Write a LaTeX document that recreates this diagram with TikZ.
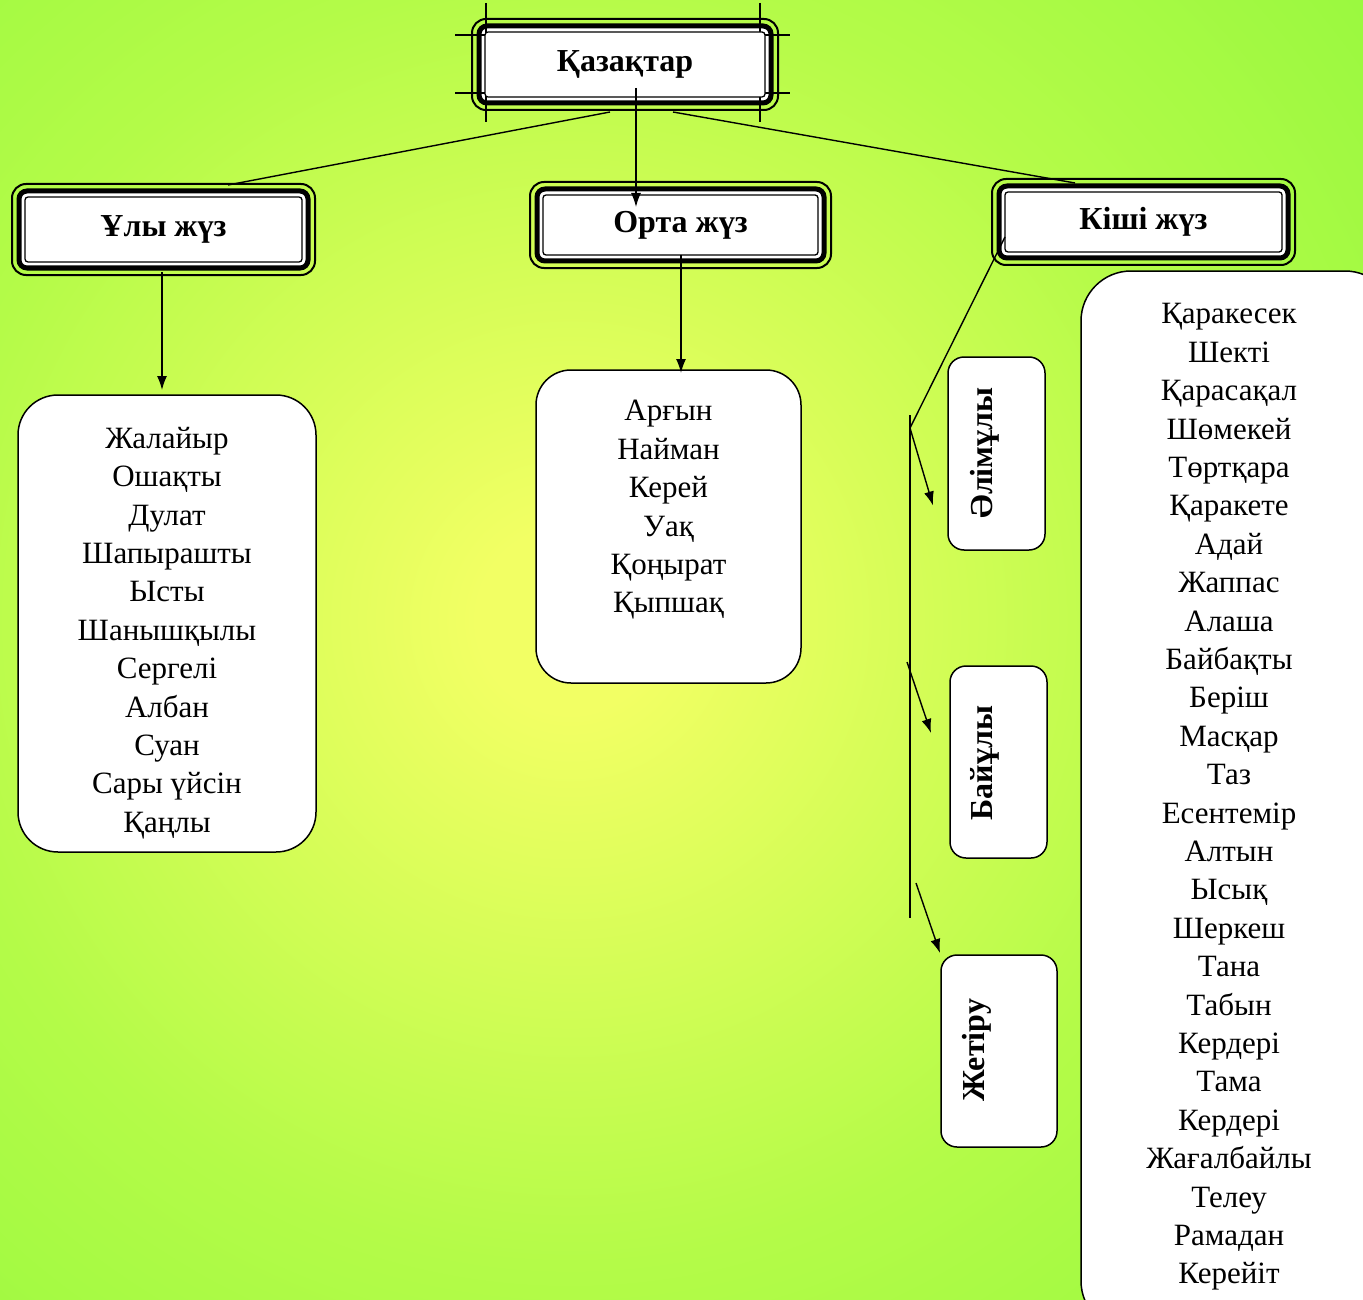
\documentclass[tikz,border=0pt]{standalone}
\usepackage{fontspec}
\setmainfont{Liberation Serif}
\usetikzlibrary{arrows.meta}
\definecolor{ylw}{RGB}{242,255,100}
\definecolor{midg}{RGB}{180,251,72}
\definecolor{grn}{RGB}{138,247,58}
\pgfdeclarelayer{bg}
\pgfdeclarelayer{mid}
\pgfsetlayers{bg,mid,main}
\pgfdeclareradialshading{bgshade}{\pgfpointorigin}{color(0bp)=(ylw);color(2bp)=(ylw);color(14bp)=(midg);color(27bp)=(grn);color(50bp)=(grn)}
\newcommand\hdrframe[1]{%
  \begin{pgfonlayer}{mid}
    \draw[line width=5pt, fill=white, rounded corners=8pt]
      ([xshift=-6pt,yshift=6pt]#1.north west) rectangle ([xshift=6pt,yshift=-6pt]#1.south east);
    \draw[line width=2pt, rounded corners=14pt]
      ([xshift=-13pt,yshift=13pt]#1.north west) rectangle ([xshift=13pt,yshift=-13pt]#1.south east);
  \end{pgfonlayer}}
\begin{document}
\begin{tikzpicture}[x=1pt,y=-1pt,
  hdr/.style={draw, line width=1.3pt, rounded corners=3pt, fill=white, inner sep=0pt, outer sep=0pt,
    font=\fontsize{32}{38}\selectfont\bfseries},
  lst/.style={draw, line width=1.5pt, fill=white, inner sep=0pt, outer sep=0pt},
  lbl/.style={draw, line width=1.5pt, rounded corners=16pt, fill=white, inner sep=0pt, outer sep=0pt},
  txt/.style={align=center, inner sep=0pt, font=\fontsize{31}{38.4}\selectfont},
  vtxt/.style={rotate=90, inner sep=0pt, font=\fontsize{32}{38}\selectfont\bfseries},
  ln/.style={line width=1.4pt},
  arr/.style={line width=1.4pt, -{Latex[length=14pt,width=10pt]}},
  crop/.style={line width=1.1pt}]
\useasboundingbox (0,0) rectangle (1363,1300);
\begin{pgfonlayer}{bg}
  \begin{scope}
    \clip (0,0) rectangle (1363,1300);
    \fill[grn] (0,0) rectangle (1363,1300);
    \shade[shading=bgshade] (570,620) circle (1150);
  \end{scope}
\end{pgfonlayer}
\clip (0,0) rectangle (1363,1300);

% header boxes
\node[hdr, minimum width=280pt, minimum height=65pt] (kaz) at (625,64.5) {Қазақтар};
\hdrframe{kaz}
\begin{pgfonlayer}{mid}
  \draw[crop] ([xshift=1pt,yshift=29pt]kaz.north west) -- ([xshift=1pt,yshift=-25pt]kaz.south west);
  \draw[crop] ([xshift=-5pt,yshift=29pt]kaz.north east) -- ([xshift=-5pt,yshift=-25pt]kaz.south east);
  \draw[crop] ([xshift=-30pt,yshift=-3pt]kaz.north west) -- ([xshift=25pt,yshift=-3pt]kaz.north east);
  \draw[crop] ([xshift=-30pt,yshift=4pt]kaz.south west) -- ([xshift=25pt,yshift=4pt]kaz.south east);
\end{pgfonlayer}

\node[hdr, minimum width=277pt, minimum height=65pt] (uly) at (163.5,229.5) {Ұлы жүз};
\hdrframe{uly}
\node[hdr, minimum width=275pt, minimum height=60pt] (orta) at (680.5,225) {Орта жүз};
\hdrframe{orta}
\node[hdr, minimum width=277pt, minimum height=60pt] (kishi) at (1143.5,222) {Кіші жүз};
\hdrframe{kishi}

% list boxes
\node[lst, rounded corners=40pt, minimum width=298pt, minimum height=457pt] (ulyl) at (167,623.5) {};
\node[txt] (ulyt) at (167,633) {Жалайыр\\Ошақты\\Дулат\\Шапырашты\\Ысты\\Шанышқылы\\Сергелі\\Албан\\Суан\\Сары үйсін\\Қаңлы};
\node[lst, rounded corners=35pt, minimum width=265pt, minimum height=313pt] (ortal) at (668.5,526.5) {};
\node[txt] (ortat) at (668.5,510) {Арғын\\Найман\\Керей\\Уақ\\Қоңырат\\Қыпшақ};
\node[lst, rounded corners=50pt, minimum width=314pt, minimum height=1060pt] (kishil) at (1238,801) {};
\node[txt] (kishit) at (1229,797) {Қаракесек\\Шекті\\Қарасақал\\Шөмекей\\Төртқара\\Қаракете\\Адай\\Жаппас\\Алаша\\Байбақты\\Беріш\\Масқар\\Таз\\Есентемір\\Алтын\\Ысық\\Шеркеш\\Тана\\Табын\\Кердері\\Тама\\Кердері\\Жағалбайлы\\Телеу\\Рамадан\\Керейіт};

% vertical label boxes
\node[lbl, minimum width=97pt, minimum height=193pt] (alim) at (996.5,453.5) {};
\node[vtxt] (alimt) at (985,453) {Әлімұлы};
\node[lbl, minimum width=97pt, minimum height=192pt] (bai) at (998.5,762) {};
\node[vtxt] (bait) at (985,763) {Байұлы};
\node[lbl, minimum width=116pt, minimum height=192pt] (zhet) at (999,1051) {};
\node[vtxt] (zhett) at (977,1050) {Жетіру};

% connectors
\coordinate (kl) at (610,112);
\coordinate (kr) at (673,112);
\coordinate (ul) at (228,185);
\coordinate (kt) at (1075,183);
\draw[ln] (kl) -- (ul);
\draw[ln] (kr) -- (kt);
\draw[arr] ([xshift=11pt,yshift=9pt]kaz.south) -- ([xshift=-44.5pt,yshift=-12pt]orta.north);
\draw[arr] ([xshift=-1.5pt,yshift=-10pt]uly.south) -- ([xshift=-5pt,yshift=5pt]ulyl.north);
\draw[arr] ([xshift=0.5pt]orta.south) -- ([xshift=12.5pt,yshift=-3pt]ortal.north);

\coordinate (ks) at (1005,237);
\coordinate (bt) at (910,428);
\coordinate (vt) at (910,415);
\coordinate (vb) at (910,918);
\coordinate (a2s) at (907,662);
\coordinate (a3s) at (916,883);
\draw[ln] (ks) -- (bt);
\draw[ln] (vt) -- (vb);
\draw[arr] (bt) -- ([xshift=-15pt,yshift=-52pt]alim.west);
\draw[arr] (a2s) -- ([xshift=-19pt,yshift=29pt]bai.west);
\draw[arr] (a3s) -- ([xshift=-1pt,yshift=2pt]zhet.north west);
\end{tikzpicture}
\end{document}
